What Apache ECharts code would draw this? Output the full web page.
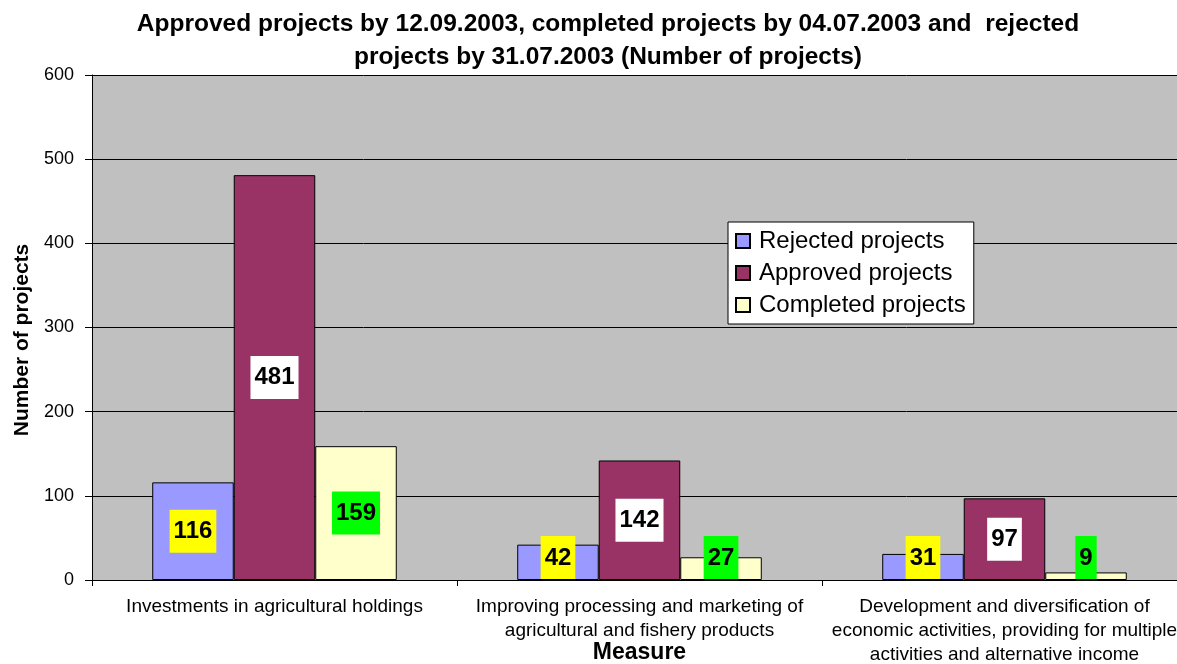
<!DOCTYPE html>
<html>
<head>
<meta charset="utf-8">
<script src="https://cdn.jsdelivr.net/npm/echarts@6/dist/echarts.min.js"></script>
<style>
html,body{margin:0;padding:0;background:#fff;}
#chart{width:1177px;height:664px;}
</style>
</head>
<body>
<div id="chart"></div>
<script>
const categories = [
  'Investments in agricultural holdings',
  'Improving processing and marketing of\nagricultural and fishery products',
  'Development and diversification of\neconomic activities, providing for multiple\nactivities and alternative income'
];
const rejected = [116, 42, 31];
const approved = [481, 142, 97];
const completed = [159, 27, 9];
const seriesNames = ['Rejected projects', 'Approved projects', 'Completed projects'];
const yTicks = [0, 100, 200, 300, 400, 500, 600];

const FONT = '"Liberation Sans", Arial, sans-serif';

function makeSeries(name, values, color, labelBg) {
  return {
    name: name,
    type: 'bar',
    barGap: '0%',
    barCategoryGap: '33%',
    itemStyle: { color: color, borderColor: '#000', borderWidth: 1 },
    data: values.map(v => ({
      value: v,
      label: { position: v < 55 ? 'insideBottom' : 'inside', distance: 1 }
    })),
    label: {
      show: true,
      fontFamily: FONT,
      fontSize: 24,
      fontWeight: 'bold',
      color: '#000',
      lineHeight: 24,
      backgroundColor: labelBg,
      padding: [10, 4, 9, 4]
    }
  };
}

const chart = echarts.init(document.getElementById('chart'));
chart.setOption({
  animation: false,
  backgroundColor: '#fff',
  title: {
    text: 'Approved projects by 12.09.2003, completed projects by 04.07.2003 and  rejected\nprojects by 31.07.2003 (Number of projects)',
    left: 608,
    textAlign: 'center',
    top: 0,
    padding: [8, 0, 5, 0],
    textStyle: { fontFamily: FONT, fontSize: 24.5, fontWeight: 'bold', color: '#000', lineHeight: 33 }
  },
  legend: {
    orient: 'vertical',
    left: 728,
    top: 222,
    padding: [7, 8, 7, 7],
    itemGap: 8,
    itemWidth: 14,
    itemHeight: 14,
    icon: 'rect',
    backgroundColor: '#fff',
    borderColor: '#000',
    borderWidth: 1,
    data: seriesNames,
    textStyle: { fontFamily: FONT, fontSize: 24, color: '#000', padding: [0, 0, 0, 4] }
  },
  grid: {
    left: 92, top: 75, bottom: 84, right: -10,
    outerBoundsMode: 'none',
    containLabel: false,
    show: true, backgroundColor: '#C0C0C0', borderWidth: 0
  },
  xAxis: {
    type: 'category',
    data: categories,
    name: 'Measure',
    nameLocation: 'middle',
    nameGap: 61,
    nameMoveOverlap: false,
    nameTextStyle: { fontFamily: FONT, fontSize: 23, fontWeight: 'bold', color: '#000' },
    axisLine: { show: true, lineStyle: { color: '#000', width: 1 } },
    axisTick: { show: true, length: 6, lineStyle: { color: '#000' } },
    axisLabel: { interval: 0, margin: 15, fontFamily: FONT, fontSize: 19, lineHeight: 24, color: '#000' }
  },
  yAxis: {
    type: 'value',
    min: yTicks[0],
    max: yTicks[yTicks.length - 1],
    interval: 100,
    name: 'Number of projects',
    nameLocation: 'middle',
    nameGap: 59,
    nameMoveOverlap: false,
    nameTextStyle: { fontFamily: FONT, fontSize: 21, fontWeight: 'bold', color: '#000', padding: [0, 25, 0, 0] },
    axisLine: { show: true, lineStyle: { color: '#000', width: 1 } },
    axisTick: { show: true, length: 7, lineStyle: { color: '#000' } },
    axisLabel: { margin: 18, fontFamily: FONT, fontSize: 18, color: '#000' },
    splitLine: { show: true, lineStyle: { color: '#000', width: 1 } }
  },
  series: [
    makeSeries(seriesNames[0], rejected, '#9999FF', '#FFFF00'),
    makeSeries(seriesNames[1], approved, '#993366', '#FFFFFF'),
    makeSeries(seriesNames[2], completed, '#FFFFCC', '#00FF00')
  ]
});
</script>
</body>
</html>
